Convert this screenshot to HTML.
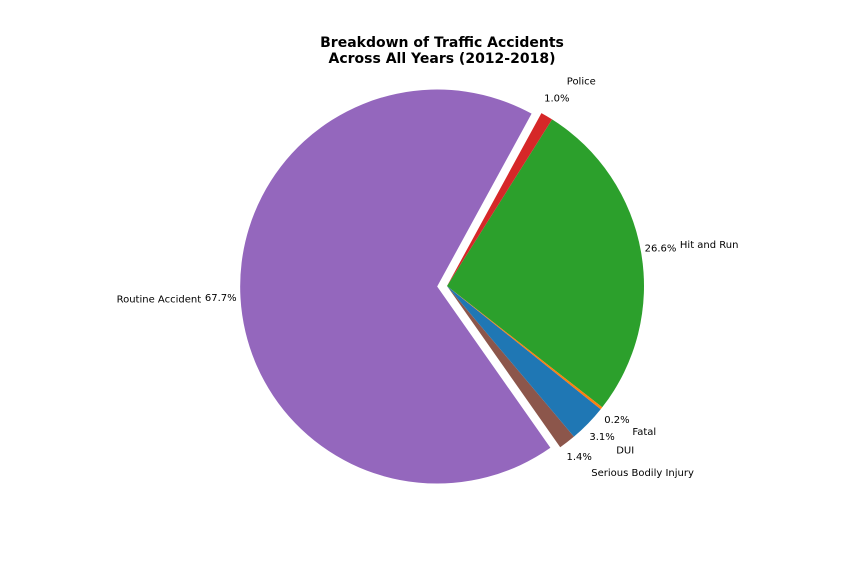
<!DOCTYPE html>
<html><head><meta charset="utf-8"><style>
body{margin:0;background:#fff;}
svg{display:block;font-family:"DejaVu Sans","Liberation Sans",sans-serif;}
</style></head><body>
<svg id="chart" width="864" height="576" viewBox="0 0 864 576">
<rect width="864" height="576" fill="#fff"/>
<text x="442" y="47" text-anchor="middle" font-size="14" font-weight="bold">Breakdown of Traffic Accidents</text>
<text x="442" y="63" text-anchor="middle" font-size="14" font-weight="bold">Across All Years (2012-2018)</text>
<g id="slices"></g>
<g id="labels"></g>
</svg>
<script>
const categories = ["Hit and Run", "Police", "Routine Accident", "Serious Bodily Injury", "DUI", "Fatal"];
const values = [26.6, 1.0, 67.7, 1.4, 3.1, 0.2];
const pctLabels = ["26.6%", "1.0%", "67.7%", "1.4%", "3.1%", "0.2%"];
const colors = ["#2ca02c", "#d62728", "#9467bd", "#8c564b", "#1f77b4", "#ff7f0e"];
const explode = [0, 0, 0.05, 0, 0, 0];

const cx = 447, cy = 286, R = 197, startAngle = -38;
const NS = "http://www.w3.org/2000/svg";
const gS = document.getElementById("slices"), gL = document.getElementById("labels");
const total = values.reduce((a, b) => a + b, 0);
function pt(x0, y0, r, deg) { const a = deg * Math.PI / 180; return [x0 + r * Math.cos(a), y0 - r * Math.sin(a)]; }
let a0 = startAngle;
values.forEach((v, i) => {
  const span = v / total * 360, a1 = a0 + span, mid = (a0 + a1) / 2;
  const [ox, oy] = pt(0, 0, explode[i] * R, mid);
  const x0 = cx + ox, y0 = cy + oy;
  const [sx, sy] = pt(x0, y0, R, a0), [ex, ey] = pt(x0, y0, R, a1);
  const p = document.createElementNS(NS, "path");
  p.setAttribute("d", `M${x0},${y0} L${sx},${sy} A${R},${R} 0 ${span > 180 ? 1 : 0} 0 ${ex},${ey} Z`);
  p.setAttribute("fill", colors[i]);
  
  
  gS.appendChild(p);
  const right = Math.cos(mid * Math.PI / 180) >= 0;
  const [px, py] = pt(x0, y0, R * 1.1, mid);
  const t1 = document.createElementNS(NS, "text");
  t1.setAttribute("x", px); t1.setAttribute("y", py + 2.5);
  t1.setAttribute("text-anchor", "middle"); t1.setAttribute("font-size", "10");
  t1.textContent = pctLabels[i];
  
  
  gL.appendChild(t1);
  const [lx, ly] = pt(x0, y0, R * 1.2, mid);
  const t2 = document.createElementNS(NS, "text");
  t2.setAttribute("x", lx); t2.setAttribute("y", ly + 2.5);
  t2.setAttribute("text-anchor", right ? "start" : "end"); t2.setAttribute("font-size", "10");
  t2.textContent = categories[i];
  
  
  gL.appendChild(t2);
  a0 = a1;
});
</script>
</body></html>
